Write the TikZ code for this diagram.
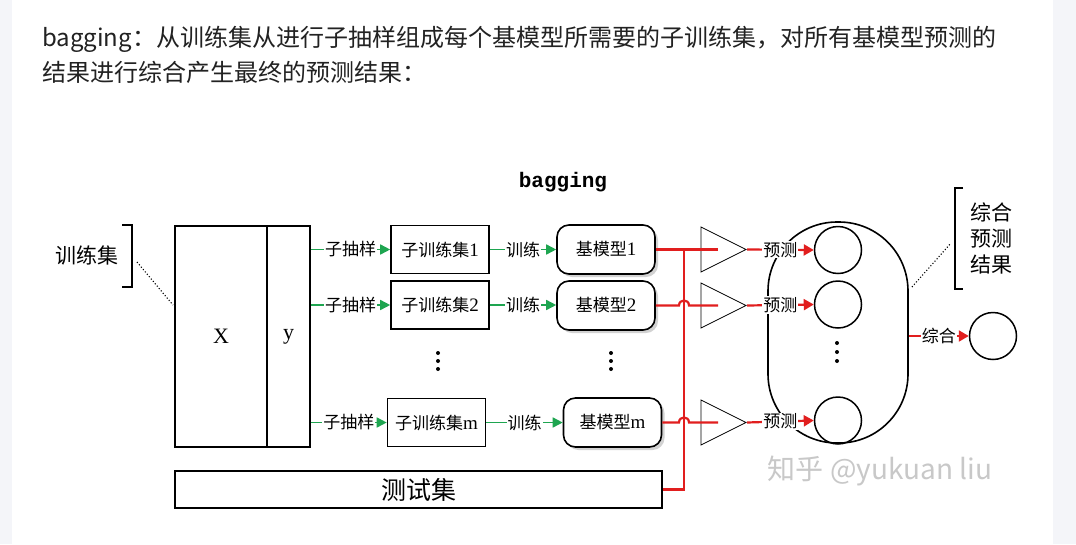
\documentclass[tikz,border=0pt]{standalone}
\usepackage{fontspec}
\setmainfont{Liberation Serif}
\newfontfamily\cjk{Noto Sans CJK SC}
\newfontfamily\monof{Liberation Mono}
\usetikzlibrary{shapes.geometric,arrows.meta,shadows}
\definecolor{gr}{RGB}{30,165,80}
\definecolor{rd}{RGB}{225,30,30}
\definecolor{strip}{RGB}{244,245,249}
\definecolor{hdr}{RGB}{34,34,34}
\definecolor{wmc}{RGB}{200,200,200}
\newcommand\fsz[1]{\fontsize{#1pt}{#1pt}\selectfont}
\begin{document}
\begin{tikzpicture}[x=1pt,y=-1pt,
  box/.style={draw, line width=1.6pt, inner sep=0pt, font=\fsz{19}},
  subbox/.style={box, minimum width=98pt, minimum height=48pt},
  basebox/.style={box, fill=white, rounded corners=12pt, minimum width=98pt, minimum height=49pt,
     drop shadow={shadow xshift=3pt, shadow yshift=-3pt, opacity=.35}},
  garrow/.style={draw=gr, line width=1.6pt, -{Triangle[length=10pt,width=10pt]}},
  lab/.style={fill=white, inner sep=1pt, font=\cjk\fsz{17}},
  rline/.style={draw=rd, line width=2.2pt},
  rarrow/.style={rline, -{Triangle[length=10pt,width=11pt]}},
  tri/.style={draw, line width=0.8pt, isosceles triangle, isosceles triangle stretches,
     minimum width=45pt, minimum height=45pt, inner sep=0pt, anchor=apex},
  circ/.style={draw, circle, line width=1.5pt, minimum size=47pt, inner sep=0pt},
  dotline/.style={dotted, line width=1.1pt}
]
\useasboundingbox (0,0) rectangle (1076,544);
\fill[white] (0,0) rectangle (1076,544);
\fill[strip] (0,0) rectangle (12,544);
\fill[strip] (1053,0) rectangle (1076,544);

% header
\node[anchor=west, text=hdr, font=\cjk\fsz{24}, inner sep=0pt] (h1) at (42,39)
  {bagging：从训练集从进行子抽样组成每个基模型所需要的子训练集，对所有基模型预测的};
\node[anchor=west, text=hdr, font=\cjk\fsz{24}, inner sep=0pt] (h2) at (42,72)
  {结果进行综合产生最终的预测结果：};

% title
\node[font=\monof\bfseries\fsz{21}] (title) at (563,182) {bagging};

% training set
\node[box, minimum width=92pt, minimum height=221pt, font=\fsz{22}] (X) at (221,336.5) {X};
\node[box, minimum width=43pt, minimum height=221pt, font=\fsz{22}] (Y) at (288.5,336.5) {y};
\node[font=\cjk\fsz{21}] (trlab) at (87,255) {训练集};
\draw[line width=1.6pt] (122,225) -- (132,225) -- (132,287) -- (122,287);
\coordinate (ld1) at (137,262);
\coordinate (ld2) at (173,305);
\draw[dotline] (ld1) -- (ld2);

% sub training sets
\node[subbox] (s1) at (440,249.5) {{\cjk\fsz{17}子训练集}1};
\node[subbox] (s2) at (440,305) {{\cjk\fsz{17}子训练集}2};
\node[subbox] (sm) at (436.5,422.5) {{\cjk\fsz{17}子训练集}m};

% base models
\node[basebox] (b1) at (606,249.5) {{\cjk\fsz{17}基模型}1};
\node[basebox] (b2) at (606,305.5) {{\cjk\fsz{17}基模型}2};
\node[basebox] (bm) at (612.5,422.5) {{\cjk\fsz{17}基模型}m};

% green arrows
\draw[garrow] (Y.east |- s1.west) -- node[lab]{子抽样} (s1.west);
\draw[garrow] (Y.east |- s2.west) -- node[lab]{子抽样} (s2.west);
\draw[garrow] (Y.east |- sm.west) -- node[lab]{子抽样} (sm.west);
\draw[garrow] (s1.east) -- node[lab]{训练} (b1.west);
\draw[garrow] (s2.east) -- node[lab]{训练} (s2.east -| b2.west);
\draw[garrow] (sm.east) -- node[lab]{训练} (bm.west);

% dots
\foreach \yy in {353,361,369} {
  \fill (438,\yy) circle (2pt);
  \fill (611,\yy) circle (2pt);
}

% test set
\node[box, minimum width=487pt, minimum height=37pt, font=\cjk\fsz{25}] (test) at (418.5,489.5) {测试集};

% triangles
\node[tri] (t1) at (747,249.5) {};
\node[tri] (t2) at (747,305.5) {};
\node[tri] (tm) at (747,422.5) {};

% red lines
\coordinate (e1) at (718,249.5);
\coordinate (e2) at (718,305.5);
\coordinate (em) at (718,422.5);
\coordinate (jn) at (684,249.5);
\draw[rline] (test.east) -| (jn);
\draw[rline] (b1.east) -- (e1);
\draw[rline] (b2.east) -- (679,305.5) .. controls (679,298.8) and (689,298.8) .. (689,305.5) -- (e2);
\draw[rline] (bm.east) -- (679,422.5) .. controls (679,415.8) and (689,415.8) .. (689,422.5) -- (em);

% aggregation
\node[draw, line width=1.6pt, rounded corners=69pt, minimum width=140pt, minimum height=221pt] (agg) at (838,332.5) {};
\node[circ] (c1) at (838,250) {};
\node[circ] (c2) at (838,304.5) {};
\node[circ] (cm) at (838,420.5) {};
\foreach \yy in {343,352,361} {
  \fill (837,\yy) circle (2pt);
}
\draw[rarrow] (t1.apex) -- node[lab]{预测} (c1.west);
\draw[rarrow] (t2.apex) -- node[lab]{预测} (c2.west);
\draw[rarrow] (tm.apex) -- node[lab]{预测} (cm.west);

\node[circ] (out) at (993,336) {};
\draw[rarrow] (agg.east |- out.west) -- node[lab]{综合} (out.west);

% result label
\draw[line width=1.6pt] (963,188) -- (955,188) -- (955,289) -- (963,289);
\node[font=\cjk\fontsize{21pt}{26pt}\selectfont, align=center, inner sep=0pt] (res) at (991,238)
  {综合\\预测\\结果};
\coordinate (rd1) at (912,287);
\coordinate (rd2) at (951,243);
\draw[dotline] (rd1) -- (rd2);

% watermark
\node[text=wmc, font=\cjk\fsz{28}] (wm) at (880,471) {知乎 @yukuan liu};
\end{tikzpicture}
\end{document}
